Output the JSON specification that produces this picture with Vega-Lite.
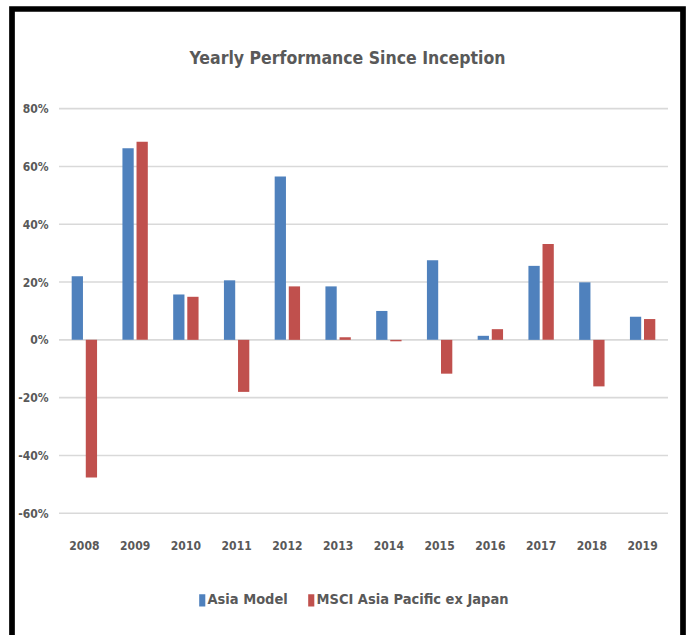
{
  "$schema": "https://vega.github.io/schema/vega-lite/v6.json",
  "autosize": {"type": "none"},
  "padding": {"left": 12, "top": 9, "right": 7, "bottom": -6},
  "width": 671,
  "height": 632,
  "background": "white",
  "title": {
    "text": "Yearly Performance Since Inception",
    "anchor": "middle",
    "frame": "group",
    "offset": -58,
    "font": "DejaVu Sans Condensed, sans-serif",
    "fontSize": 17.5,
    "fontWeight": "bold",
    "color": "#595959"
  },
  "datasets": {
    "perf": [
      {"year": "2008", "series": "Asia Model", "value": 22.0},
      {"year": "2008", "series": "MSCI Asia Pacific ex Japan", "value": -47.6},
      {"year": "2009", "series": "Asia Model", "value": 66.3},
      {"year": "2009", "series": "MSCI Asia Pacific ex Japan", "value": 68.5},
      {"year": "2010", "series": "Asia Model", "value": 15.7},
      {"year": "2010", "series": "MSCI Asia Pacific ex Japan", "value": 14.9},
      {"year": "2011", "series": "Asia Model", "value": 20.6},
      {"year": "2011", "series": "MSCI Asia Pacific ex Japan", "value": -18.0},
      {"year": "2012", "series": "Asia Model", "value": 56.5},
      {"year": "2012", "series": "MSCI Asia Pacific ex Japan", "value": 18.5},
      {"year": "2013", "series": "Asia Model", "value": 18.5},
      {"year": "2013", "series": "MSCI Asia Pacific ex Japan", "value": 0.9},
      {"year": "2014", "series": "Asia Model", "value": 10.0},
      {"year": "2014", "series": "MSCI Asia Pacific ex Japan", "value": -0.5},
      {"year": "2015", "series": "Asia Model", "value": 27.5},
      {"year": "2015", "series": "MSCI Asia Pacific ex Japan", "value": -11.7},
      {"year": "2016", "series": "Asia Model", "value": 1.4},
      {"year": "2016", "series": "MSCI Asia Pacific ex Japan", "value": 3.7},
      {"year": "2017", "series": "Asia Model", "value": 25.6},
      {"year": "2017", "series": "MSCI Asia Pacific ex Japan", "value": 33.2},
      {"year": "2018", "series": "Asia Model", "value": 19.9},
      {"year": "2018", "series": "MSCI Asia Pacific ex Japan", "value": -16.1},
      {"year": "2019", "series": "Asia Model", "value": 8.0},
      {"year": "2019", "series": "MSCI Asia Pacific ex Japan", "value": 7.2}
    ],
    "grid": [
      {"v": -60}, {"v": -40}, {"v": -20}, {"v": 0}, {"v": 20}, {"v": 40}, {"v": 60}, {"v": 80}
    ]
  },
  "layer": [
    {
      "data": {"name": "grid"},
      "mark": {"type": "rule", "color": "#d9d9d9", "strokeWidth": 1.6},
      "encoding": {
        "y": {"field": "v", "type": "quantitative"},
        "x": {"datum": "2008", "type": "nominal", "bandPosition": -0.5},
        "x2": {"datum": "2019", "bandPosition": 1.5}
      }
    },
    {
      "data": {"name": "perf"},
      "mark": {"type": "bar"},
      "encoding": {
        "x": {
          "field": "year",
          "type": "nominal",
          "scale": {"paddingInner": 0.5, "paddingOuter": 0.861, "align": 0.683},
          "axis": {
            "orient": "bottom",
            "bandPosition": 0.5,
            "title": null,
            "offset": -96,
            "labelPadding": 0,
            "ticks": false,
            "domain": false,
            "labelAngle": 0,
            "labelAlign": "center",
            "labelFont": "DejaVu Sans Condensed, sans-serif",
            "labelFontSize": 12,
            "labelFontWeight": "bold",
            "labelColor": "#595959"
          }
        },
        "xOffset": {
          "field": "series",
          "type": "nominal",
          "scale": {"paddingInner": 0.2, "paddingOuter": 0}
        },
        "y": {
          "field": "value",
          "type": "quantitative",
          "scale": {"domain": [-104.19, 114.47], "nice": false, "zero": false},
          "axis": {
            "title": null,
            "values": [-60, -40, -20, 0, 20, 40, 60, 80],
            "labelExpr": "datum.value + '%'",
            "grid": false,
            "domain": false,
            "ticks": false,
            "offset": -36,
            "labelPadding": 0,
            "labelFont": "DejaVu Sans Condensed, sans-serif",
            "labelFontSize": 12,
            "labelFontWeight": "bold",
            "labelColor": "#595959"
          }
        },
        "color": {
          "field": "series",
          "type": "nominal",
          "scale": {
            "domain": ["Asia Model", "MSCI Asia Pacific ex Japan"],
            "range": ["#4F81BD", "#C0504D"]
          },
          "legend": {
            "orient": "none",
            "legendX": 183,
            "legendY": 584,
            "direction": "horizontal",
            "title": null,
            "symbolType": "M-0.5,-1H0.5V1H-0.5Z",
            "symbolSize": 150,
            "symbolStrokeWidth": 0,
            "columnPadding": 16,
            "labelOffset": -2,
            "labelLimit": 0,
            "labelFont": "DejaVu Sans Condensed, sans-serif",
            "labelFontSize": 14.5,
            "labelFontWeight": "bold",
            "labelColor": "#595959"
          }
        }
      }
    }
  ],
  "config": {
    "view": {"stroke": "#000000", "strokeWidth": 5.7, "fill": "white"}
  }
}
